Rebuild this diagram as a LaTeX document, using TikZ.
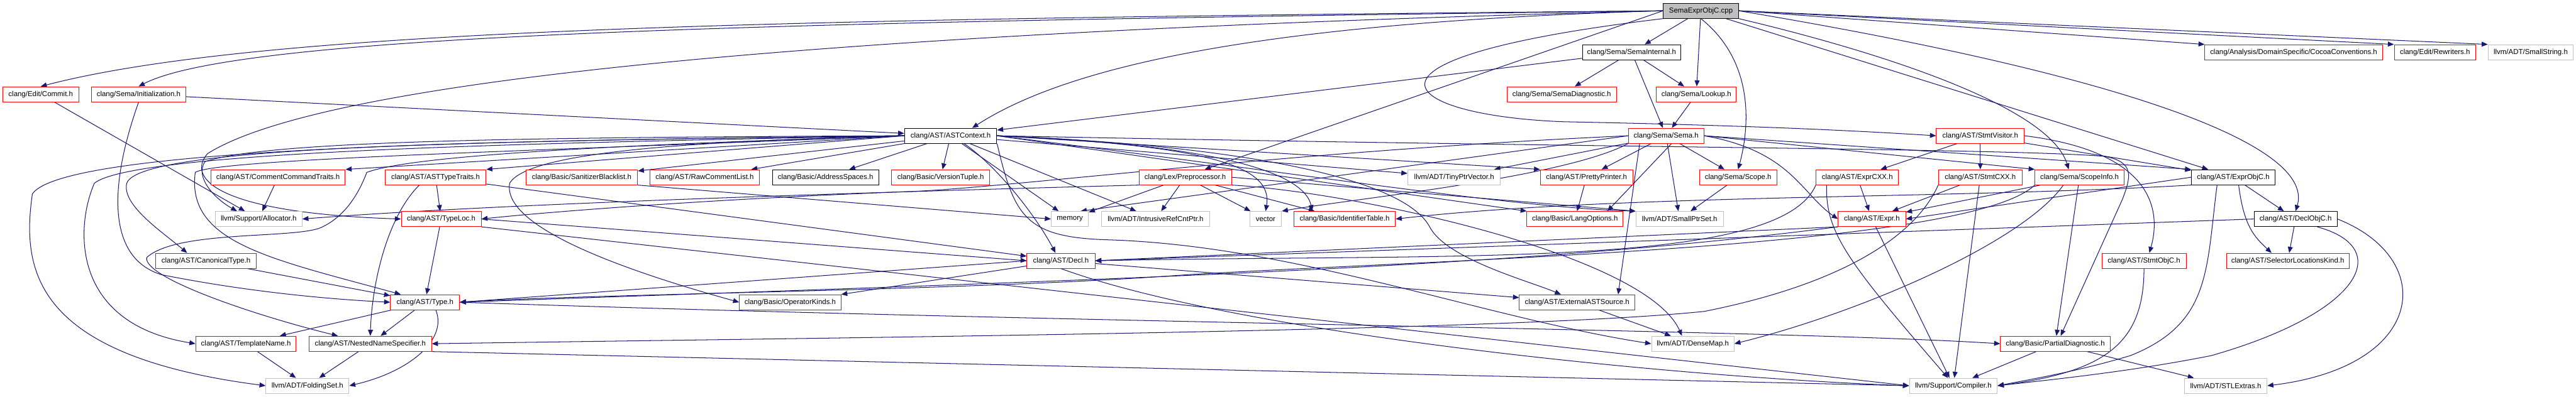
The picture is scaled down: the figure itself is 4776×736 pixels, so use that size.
\documentclass[tikz,border=0pt]{standalone}
\usepackage{fontspec}
\newfontfamily\lsans{Liberation Sans}
\usetikzlibrary{arrows.meta}
\definecolor{edgec}{HTML}{191970}
\definecolor{nred}{HTML}{FF0000}
\definecolor{ngray}{HTML}{BFBFBF}
\pgfdeclarelayer{paper}
\pgfdeclarelayer{bg}
\pgfsetlayers{paper,bg,main}
\tikzset{
  nbase/.style={draw, line width=0.32pt, inner sep=0pt, minimum height=0.28cm, fill=white, text=black, font={\lsans\fontsize{3.8pt}{4.5pt}\selectfont}},
  rnode/.style={nbase, draw=nred},
  bnode/.style={nbase, draw=black},
  gnode/.style={nbase, draw=ngray},
  tnode/.style={nbase, draw=black, fill=ngray},
  dep/.style={draw=edgec, line width=0.34pt, -{Triangle[length=3.2pt,width=2.6pt]}},
}
\begin{document}
\begin{tikzpicture}[x=0.01cm, y=-0.01cm]
\useasboundingbox (0,0) rectangle (4776,736);
\begin{pgfonlayer}{paper}
\fill[white] (0,0) rectangle (4776,736);
\end{pgfonlayer}
% row 0
\node[tnode, minimum width=1.39cm] (root) at (3153.5,20) {SemaExprObjC.cpp};
% row 1
\node[bnode, minimum width=1.82cm] (semaint) at (3025,97) {clang/Sema/SemaInternal.h};
\node[rnode, minimum width=3.29cm] (cocoa) at (4252.5,97) {clang/Analysis/DomainSpecific/CocoaConventions.h};
\node[rnode, minimum width=1.51cm] (rewr) at (4514.5,97) {clang/Edit/Rewriters.h};
\node[gnode, minimum width=1.58cm] (smallstr) at (4692,97) {llvm/ADT/SmallString.h};
% row 2
\node[rnode, minimum width=1.41cm] (commit) at (75.5,175) {clang/Edit/Commit.h};
\node[rnode, minimum width=1.74cm] (init) at (257,175) {clang/Sema/Initialization.h};
\node[rnode, minimum width=2.03cm] (semadiag) at (2895.5,175) {clang/Sema/SemaDiagnostic.h};
\node[rnode, minimum width=1.48cm] (lookup) at (3145,175) {clang/Sema/Lookup.h};
% row 3
\node[bnode, minimum width=1.71cm] (astctx) at (1762.5,252) {clang/AST/ASTContext.h};
\node[rnode, minimum width=1.40cm] (sema) at (3089,252) {clang/Sema/Sema.h};
\node[rnode, minimum width=1.63cm] (stmtvis) at (3671.5,252) {clang/AST/StmtVisitor.h};
% row 4
\node[rnode, minimum width=2.49cm] (cct) at (515.5,329) {clang/AST/CommentCommandTraits.h};
\node[rnode, minimum width=1.87cm] (asttt) at (807.5,329) {clang/AST/ASTTypeTraits.h};
\node[rnode, minimum width=2.07cm] (sanit) at (1078.5,329) {clang/Basic/SanitizerBlacklist.h};
\node[rnode, minimum width=2.03cm] (rawc) at (1306.5,329) {clang/AST/RawCommentList.h};
\node[bnode, minimum width=1.97cm] (addr) at (1530.5,329) {clang/Basic/AddressSpaces.h};
\node[rnode, minimum width=1.82cm] (vtuple) at (1744,329) {clang/Basic/VersionTuple.h};
\node[rnode, minimum width=1.71cm] (pp) at (2197.5,329) {clang/Lex/Preprocessor.h};
\node[gnode, minimum width=1.72cm] (tiny) at (2696,329) {llvm/ADT/TinyPtrVector.h};
\node[rnode, minimum width=1.71cm] (pretty) at (2941.5,329) {clang/AST/PrettyPrinter.h};
\node[rnode, minimum width=1.43cm] (scope) at (3222.5,329) {clang/Sema/Scope.h};
\node[rnode, minimum width=1.53cm] (exprcxx) at (3443.5,329) {clang/AST/ExprCXX.h};
\node[rnode, minimum width=1.55cm] (stmtcxx) at (3671.5,329) {clang/AST/StmtCXX.h};
\node[rnode, minimum width=1.65cm] (scopeinfo) at (3855.5,329) {clang/Sema/ScopeInfo.h};
\node[bnode, minimum width=1.55cm] (exprobjc) at (4140.5,329) {clang/AST/ExprObjC.h};
% row 5
\node[gnode, minimum width=1.61cm] (alloc) at (479.5,406.5) {llvm/Support/Allocator.h};
\node[rnode, minimum width=1.48cm] (typeloc) at (818,406.5) {clang/AST/TypeLoc.h};
\node[gnode, minimum width=0.69cm] (memory) at (1983.5,406.5) {memory};
\node[gnode, minimum width=2.01cm] (irc) at (2142.5,406.5) {llvm/ADT/IntrusiveRefCntPtr.h};
\node[gnode, minimum width=0.59cm] (vector) at (2346.5,406.5) {vector};
\node[rnode, minimum width=1.88cm] (ident) at (2493,406.5) {clang/Basic/IdentifierTable.h};
\node[rnode, minimum width=1.78cm] (langopt) at (2920,406.5) {clang/Basic/LangOptions.h};
\node[gnode, minimum width=1.62cm] (sps) at (3114,406.5) {llvm/ADT/SmallPtrSet.h};
\node[rnode, minimum width=1.25cm] (expr) at (3470.5,406.5) {clang/AST/Expr.h};
\node[bnode, minimum width=1.54cm] (declobjc) at (4256,406.5) {clang/AST/DeclObjC.h};
% row 6
\node[rnode, minimum width=1.86cm] (canon) at (382,484) {clang/AST/CanonicalType.h};
\node[rnode, minimum width=1.26cm] (decl) at (1967,484) {clang/AST/Decl.h};
\node[rnode, minimum width=1.56cm] (stmtobjc) at (3975,484) {clang/AST/StmtObjC.h};
\node[rnode, minimum width=2.27cm] (sel) at (4241.5,484) {clang/AST/SelectorLocationsKind.h};
% row 7
\node[rnode, minimum width=1.28cm] (type) at (788,561) {clang/AST/Type.h};
\node[rnode, minimum width=1.88cm] (opk) at (1465,561) {clang/Basic/OperatorKinds.h};
\node[rnode, minimum width=2.14cm] (extsrc) at (2924,561) {clang/AST/ExternalASTSource.h};
% row 8
\node[rnode, minimum width=1.86cm] (tname) at (456,638) {clang/AST/TemplateName.h};
\node[rnode, minimum width=2.27cm] (nns) at (686.5,638) {clang/AST/NestedNameSpecifier.h};
\node[gnode, minimum width=1.53cm] (dense) at (3138.5,638) {llvm/ADT/DenseMap.h};
\node[rnode, minimum width=2.03cm] (pdiag) at (3810.5,638) {clang/Basic/PartialDiagnostic.h};
% row 9
\node[gnode, minimum width=1.54cm] (fold) at (570,716) {llvm/ADT/FoldingSet.h};
\node[gnode, minimum width=1.63cm] (compiler) at (3621.5,716) {llvm/Support/Compiler.h};
\node[gnode, minimum width=1.53cm] (stl) at (4126.5,716) {llvm/ADT/STLExtras.h};

\begin{pgfonlayer}{bg}
% root
\draw[dep] (root) -- (semaint);
\draw[dep] (root) -- (lookup);
\draw[dep] (root.south) .. controls (3260,120) and (3240,250) .. (scope.north);
\draw[dep] (root.south east) .. controls (3500,100) and (3800,200) .. ([xshift=-0.2cm]scopeinfo.north);
\draw[dep] (root) -- (exprobjc);
\draw[dep] (root.east) .. controls (4000,150) and (4290,280) .. (declobjc.north);
\draw[dep] (root.east) -- (cocoa.north west);
\draw[dep] (root.east) -- (rewr.north west);
\draw[dep] (root.east) -- (smallstr.north west);
\draw[dep] (root.south west) .. controls (2450,110) and (2600,215) .. (2900,226) .. controls (3200,232) and (3400,240) .. (stmtvis.west);
\draw[dep] (root.west) .. controls (1500,35) and (500,50) .. (commit.north);
\draw[dep] (root.west) .. controls (1500,40) and (450,60) .. (init.north);
\draw[dep] (root.west) .. controls (2400,40) and (2000,110) .. ([xshift=0.4cm]astctx.north);
\draw[dep] (root.west) -- ([xshift=0.36cm]pp.north);
\draw[dep] (root.west) .. controls (1500,60) and (600,150) .. (385,285) .. controls (345,330) and (400,395) .. (typeloc.west);
% SemaInternal, Lookup
\draw[dep] (semaint) -- (semadiag);
\draw[dep] (semaint) -- (lookup);
\draw[dep] (semaint) -- (sema);
\draw[dep] (semaint) -- (astctx);
\draw[dep] (lookup) -- (sema);
% Commit, Initialization
\draw[dep] (commit) -- (alloc);
\draw[dep] (init) -- (astctx);
\draw[dep] (init.south) .. controls (200,350) and (200,480) .. (300,510) .. controls (450,540) and (600,555) .. (type.west);
% ASTContext
\draw[dep] (astctx.west) -- (cct.north east);
\draw[dep] (astctx.west) -- (asttt.north east);
\draw[dep] (astctx) -- (sanit);
\draw[dep] (astctx) -- (rawc);
\draw[dep] (astctx) -- (addr);
\draw[dep] (astctx) -- (vtuple);
\draw[dep] (astctx.west) .. controls (1000,255) and (500,260) .. (380,300) .. controls (360,330) and (400,370) .. ([xshift=-0.4cm]alloc.north);
\draw[dep] (astctx.west) .. controls (900,262) and (260,270) .. (235,340) .. controls (225,380) and (300,430) .. ([xshift=-0.35cm]canon.north);
\draw[dep] (astctx.west) .. controls (1000,280) and (400,295) .. (362,320) .. controls (345,450) and (500,480) .. ([xshift=-0.45cm]type.north);
\draw[dep] (astctx.west) .. controls (1000,265) and (250,280) .. (175,340) .. controls (140,420) and (130,600) .. (tname.west);
\draw[dep] (astctx.west) .. controls (1000,260) and (120,270) .. (60,360) .. controls (40,500) and (60,660) .. (fold.west);
\draw[dep] (astctx.west) .. controls (1100,270) and (760,290) .. (680,320) .. controls (665,360) and (640,400) .. (600,420) .. controls (560,445) and (330,425) .. (272,478) .. controls (265,515) and (470,585) .. ([xshift=-0.6cm]nns.north);
\draw[dep] ([xshift=0.25cm]astctx.south) .. controls (1850,310) and (1920,400) .. ([xshift=-0.1cm]decl.north);
\draw[dep] (astctx.west) .. controls (1300,262) and (980,280) .. (945,340) .. controls (930,420) and (1150,500) .. (opk.west);
\draw[dep] (astctx) -- (memory);
\draw[dep] (astctx) -- (irc);
\draw[dep] (astctx.east) .. controls (2250,270) and (2360,310) .. (vector.north);
\draw[dep] (astctx.east) .. controls (2300,270) and (2420,330) .. ([xshift=-0.6cm]ident.north);
\draw[dep] (astctx.east) -- (langopt.north west);
\draw[dep] (astctx.east) .. controls (2400,320) and (2800,385) .. (sps.north west);
\draw[dep] (astctx) -- (tiny);
\draw[dep] (astctx.east) -- (pretty.north west);
\draw[dep] (astctx.east) .. controls (2300,270) and (2600,330) .. (2650,420) .. controls (2680,480) and (2830,520) .. ([xshift=-0.3cm]extsrc.north);
\draw[dep] (astctx.south east) .. controls (1880,400) and (1900,440) .. (2050,445) .. controls (2400,455) and (2750,590) .. (dense.west);
\draw[dep] (astctx.east) .. controls (3000,275) and (3700,275) .. (3900,290) .. controls (3960,300) and (3950,330) .. (3935,370) -- ([xshift=0.1cm]pdiag.north);
% Sema
\draw[dep] (sema) -- (tiny);
\draw[dep] (sema) -- (pretty);
\draw[dep] (sema) -- (scope);
\draw[dep] (sema.east) -- (scopeinfo.north west);
\draw[dep] (sema.east) -- (exprobjc.north west);
\draw[dep] (sema.west) .. controls (2400,280) and (1900,345) .. (1700,355) .. controls (1300,370) and (1000,395) .. (typeloc.east);
\draw[dep] (sema.west) -- ([xshift=0.2cm]memory.north);
\draw[dep] (sema.south west) .. controls (2900,330) and (2500,370) .. (vector.north east);
\draw[dep] ([xshift=0.1cm]sema.south) -- ([xshift=0.6cm]langopt.north);
\draw[dep] (sema) -- (sps);
\draw[dep] ([xshift=-0.49cm]sema.south) -- ([xshift=0.76cm]extsrc.north);
\draw[dep] (sema.east) .. controls (3320,280) and (3340,360) .. (expr.west);
% StmtVisitor
\draw[dep] (stmtvis) -- (exprcxx);
\draw[dep] (stmtvis) -- (stmtcxx);
\draw[dep] (stmtvis) -- (exprobjc);
\draw[dep] (stmtvis.east) .. controls (3980,280) and (4010,380) .. ([xshift=0.1cm]stmtobjc.north);
% row 4 sources
\draw[dep] (cct) -- (alloc);
\draw[dep] (asttt) -- (typeloc);
\draw[dep] (asttt) -- (decl);
\draw[dep] ([xshift=-0.3cm]asttt.south) .. controls (720,400) and (690,520) .. (nns.north);
\draw[dep] (sanit.south east) -- (memory.west);
\draw[dep] (pp.south west) .. controls (1500,360) and (900,380) .. (alloc.east);
\draw[dep] (pp) -- (memory);
\draw[dep] (pp) -- (irc);
\draw[dep] (pp) -- (vector);
\draw[dep] (pp) -- (ident);
\draw[dep] (pp.south east) .. controls (2500,355) and (3050,470) .. ([xshift=-0.2cm]dense.north);
\draw[dep] (pp.east) -- (sps.north west);
\draw[dep] (pretty) -- (langopt);
\draw[dep] (scope) -- (sps);
\draw[dep] (exprcxx.south west) .. controls (3300,500) and (2700,470) .. (decl.east);
\draw[dep] (exprcxx) -- (expr);
\draw[dep] ([xshift=0.2cm]exprcxx.south west) .. controls (3385,430) and (3420,480) .. ([xshift=-0.1cm]compiler.north);
\draw[dep] (stmtcxx.south west) .. controls (3560,420) and (3450,520) .. (3160,578) .. controls (2800,615) and (1600,626) .. (nns.east);
\draw[dep] (stmtcxx) -- (expr);
\draw[dep] (stmtcxx) -- (compiler);
\draw[dep] (scopeinfo.south west) .. controls (3650,460) and (2700,480) .. (2200,510) .. controls (1800,540) and (1100,545) .. (type.east);
\draw[dep] (scopeinfo) -- (pdiag);
\draw[dep] ([xshift=-0.3cm]scopeinfo.south) .. controls (3750,450) and (3450,580) .. (dense.east);
\draw[dep] (scopeinfo) -- (expr);
\draw[dep] (exprobjc) -- (declobjc);
\draw[dep] ([xshift=0.1cm]exprobjc.south) .. controls (4160,420) and (4180,440) .. ([xshift=-0.3cm]sel.north);
\draw[dep] ([xshift=-0.3cm]exprobjc.south) .. controls (4090,500) and (4100,600) .. (3950,660) .. controls (3850,690) and (3760,705) .. (compiler.east);
\draw[dep] (exprobjc.west) -- (expr.east);
\draw[dep] (exprobjc.south west) .. controls (3600,370) and (3000,360) .. (ident.east);
% row 5 sources
\draw[dep] (typeloc) -- (type);
\draw[dep] (typeloc.east) -- (decl.west);
\draw[dep] (typeloc.south east) -- (compiler.west);
\draw[dep] (declobjc.west) -- (decl.east);
\draw[dep] (declobjc) -- (sel);
\draw[dep] (declobjc.east) .. controls (4520,480) and (4500,680) .. (stl.east);
\draw[dep] ([xshift=0.4cm]declobjc.south) .. controls (4440,460) and (4380,580) .. (4100,660) .. controls (3950,690) and (3800,705) .. (compiler.east);
\draw[dep] (expr.south west) -- (decl.east);
\draw[dep] (expr.south west) .. controls (2800,500) and (2000,520) .. (type.east);
\draw[dep] (expr) -- (compiler);
% row 6 sources
\draw[dep] (canon) -- (type);
\draw[dep] (decl.west) -- (type.east);
\draw[dep] (decl) -- (opk);
\draw[dep] (decl) -- (extsrc);
\draw[dep] (decl.south) .. controls (2300,620) and (3100,700) .. (compiler.west);
\draw[dep] (stmtobjc.south) .. controls (3975,640) and (3900,690) .. (compiler.east);
% row 7 / 8 sources
\draw[dep] (type) -- (tname);
\draw[dep] (type) -- (nns);
\draw[dep] ([xshift=0.2cm]type.south) .. controls (830,630) and (760,690) .. (fold.east);
\draw[dep] (type.east) .. controls (2000,600) and (3300,612) .. (pdiag.west);
\draw[dep] (extsrc) -- (dense);
\draw[dep] (tname) -- (fold);
\draw[dep] (nns) -- (fold);
\draw[dep] (nns.south east) -- (compiler.west);
\draw[dep] (pdiag) -- (compiler);
\draw[dep] (pdiag) -- (stl);
\end{pgfonlayer}
\end{tikzpicture}
\end{document}
